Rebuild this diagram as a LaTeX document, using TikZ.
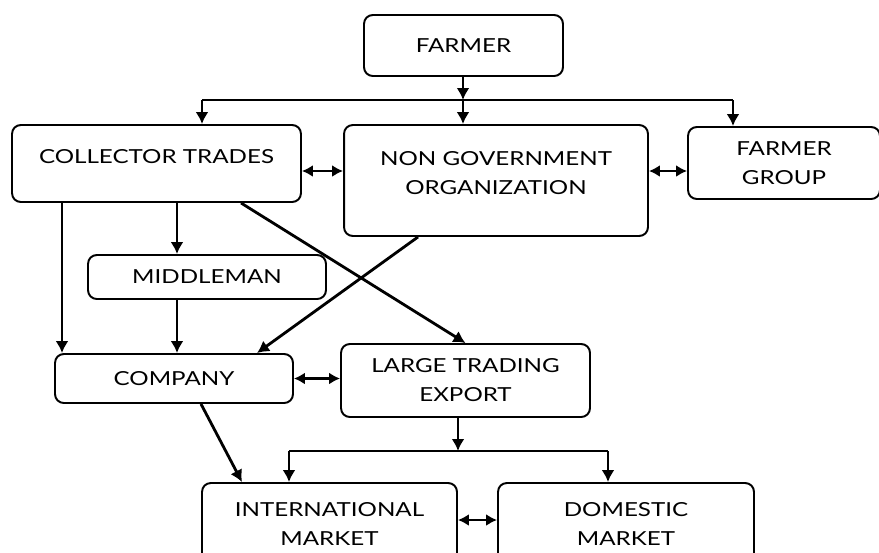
\documentclass[tikz,border=0pt]{standalone}
\usepackage{fontspec}
\setmainfont{Lato}[FakeStretch=1.25]
\usetikzlibrary{arrows.meta,positioning}

\begin{document}
\begin{tikzpicture}[x=0.02cm,y=-0.02cm,
  box/.style={draw,line width=1.1pt,rounded corners=5pt,align=center,inner sep=0pt,
    font=\fontsize{11}{16.5}\selectfont},
  flow/.style={line width=1.6pt,-{Latex[length=2.4mm,width=2.6mm]}},
  both/.style={line width=1.6pt,{Latex[length=2.2mm,width=2.4mm]}-{Latex[length=2.2mm,width=2.4mm]}}]
  \useasboundingbox (0,0) rectangle (879,552);
  \clip (0,0) rectangle (879,552);

  % boxes
  \node[box,minimum width=3.98cm,minimum height=1.22cm] (farmer) at (463.5,45.5) {FARMER};
  \node[box,minimum width=5.78cm,minimum height=1.54cm,text depth=8pt] (collector) at (156.5,163.5) {COLLECTOR TRADES};
  \node[box,minimum width=6.08cm,minimum height=2.22cm,text depth=9pt] (ngo) at (496,180.5) {NON GOVERNMENT\\ORGANIZATION};
  \node[box,minimum width=3.84cm,minimum height=1.44cm] (fgroup) at (784,163) {FARMER\\GROUP};
  \node[box,minimum width=4.76cm,minimum height=0.88cm] (middleman) at (207,277) {MIDDLEMAN};
  \node[box,minimum width=4.76cm,minimum height=0.98cm] (company) at (174,378.5) {COMPANY};
  \node[box,minimum width=4.98cm,minimum height=1.46cm] (lte) at (465.5,380.5) {LARGE TRADING\\EXPORT};
  \node[box,minimum width=5.10cm,minimum height=1.62cm] (intl) at (329.5,523.5) {INTERNATIONAL\\MARKET};
  \node[box,minimum width=5.12cm,minimum height=1.62cm] (domestic) at (626,523.5) {DOMESTIC\\MARKET};

  % farmer splits into three
  \coordinate (split) at (463,100);
  \draw[flow] (farmer.south -| split) -- (split);
  \draw[line width=0.6pt] (202,100) -- (733,100);
  \draw[flow] (split) -- (ngo.north -| split);
  \draw[flow] (split -| 202,0) -- (collector.north -| 202,0);
  \draw[flow] (split -| 733,0) -- (fgroup.north -| 733,0);

  \draw[both] (collector.east |- 0,171) -- (ngo.west |- 0,171);
  \draw[both] (ngo.east |- 0,171) -- (fgroup.west |- 0,171);

  \draw[flow] (collector.south -| 62,0) -- (company.north -| 62,0);
  \draw[flow] (collector.south -| 177,0) -- (middleman.north -| 177,0);
  \draw[flow] (middleman.south -| 177,0) -- (company.north -| 177,0);
  \draw[flow] (collector.south -| 241,0) -- (lte.north);
  \draw[flow] (ngo.south -| 418,0) -- (company.north -| 257,0);

  \draw[both] (company.east) -- (company.east -| lte.west);
  \draw[flow] (company.south -| 201,0) -- (intl.north -| 242,0);

  % export splits into two markets
  \coordinate (fork) at (458,451);
  \draw[flow] (lte.south -| fork) -- (fork);
  \draw[line width=0.6pt] (289,451) -- (608,451);
  \draw[flow] (fork -| 289,0) -- (intl.north -| 289,0);
  \draw[flow] (fork -| 608,0) -- (domestic.north -| 608,0);

  \draw[both] (intl.east |- 0,520) -- (domestic.west |- 0,520);
\end{tikzpicture}
\end{document}
